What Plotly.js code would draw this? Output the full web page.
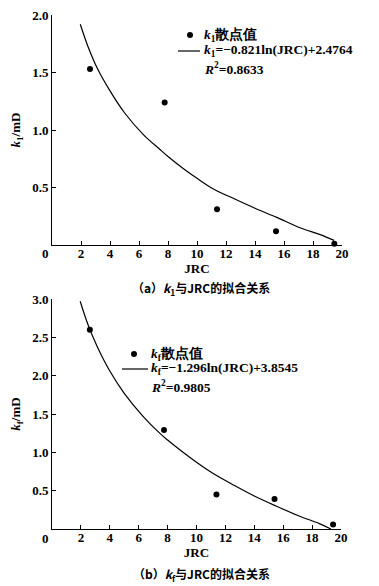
<!DOCTYPE html>
<html><head><meta charset="utf-8">
<script src="https://cdn.plot.ly/plotly-3.0.1.min.js"></script>
<style>body{margin:0;background:#fff}#c{width:379px;height:586px}</style>
</head><body><div id="c"></div>
<script>
// (a) k1 vs JRC
const jrcA = [2.62, 7.77, 11.38, 15.45, 19.47];
const k1 = [1.53, 1.24, 0.31, 0.12, 0.01];
const fitJrcA = [1.95, 2.5, 3.15, 4, 5, 6.3, 7.45, 8, 9, 10, 11.1, 12.6, 14, 15.5, 17.1, 18.5, 19.45];
const fitK1 = [1.92, 1.72, 1.53, 1.34, 1.15, 0.96, 0.83, 0.77, 0.67, 0.58, 0.49, 0.40, 0.32, 0.24, 0.15, 0.09, 0.04];
// (b) kf vs JRC
const jrcB = [2.62, 7.75, 11.38, 15.40, 19.45];
const kf = [2.60, 1.29, 0.45, 0.39, 0.06];
const fitJrcB = [1.95, 2.5, 3.15, 4, 5, 6.3, 7.45, 8, 9, 10, 11.1, 12.6, 14, 15.5, 17.1, 18.5, 19.3];
const fitKf = [2.97, 2.66, 2.37, 2.06, 1.77, 1.47, 1.25, 1.16, 1.01, 0.87, 0.73, 0.57, 0.43, 0.30, 0.17, 0.07, 0.0];
const xTicks = [0, 2, 4, 6, 8, 10, 12, 14, 16, 18, 20];
const yTicksA = [0.5, 1.0, 1.5, 2.0];
const yTicksB = [0.5, 1.0, 1.5, 2.0, 2.5, 3.0];
const legA = ['<i>k</i><sub>1</sub>散点值', '<i>k</i><sub>1</sub>=−0.821ln(JRC)+2.4764', '<i>R</i><sup>2</sup>=0.8633'];
const legB = ['<i>k</i><sub>f</sub>散点值', '<i>k</i><sub>f</sub>=−1.296ln(JRC)+3.8545', '<i>R</i><sup>2</sup>=0.9805'];
const captions = ['（a）<i>k</i><sub>1</sub>与JRC的拟合关系', '（b）<i>k</i><sub>f</sub>与JRC的拟合关系'];

const serif = '"Liberation Serif", "Times New Roman", serif';
const tickFont = {family: serif, size: 13, color: '#000', weight: 700};
const legFont = {family: serif, size: 13.5, color: '#000', weight: 700};
const capFont = {family: '"Noto Sans CJK SC"', size: 12, color: '#000', weight: 700};

function xa(domain) {
  return {domain: domain, range: [0, 20], tickvals: xTicks, ticktext: xTicks.map(v => v === 0 ? '' : String(v)),
    showline: true, linecolor: '#000', linewidth: 1, ticks: 'inside', ticklen: 4, tickcolor: '#000',
    ticklabelstandoff: -4,
    showgrid: false, zeroline: false, tickfont: tickFont, automargin: false,
    title: {text: 'JRC', font: {family: serif, size: 13, color: '#000', weight: 700}, standoff: 0}};
}
function ya(domain, range, tv, title) {
  return {domain: domain, range: range, tickvals: tv, ticktext: tv.map(v => v.toFixed(1)),
    showline: true, linecolor: '#000', linewidth: 1, ticks: 'inside', ticklen: 4, tickcolor: '#000',
    showgrid: false, zeroline: false, tickfont: tickFont, automargin: false,
    title: {text: title, font: {family: serif, size: 13, color: '#000', weight: 700}, standoff: 8}};
}

const traces = [
  {x: jrcA, y: k1, type: 'scatter', mode: 'markers', name: legA[0],
   marker: {color: '#000', size: 6}, xaxis: 'x', yaxis: 'y', cliponaxis: false},
  {x: fitJrcA, y: fitK1, type: 'scatter', mode: 'lines', name: legA[1],
   line: {color: '#000', width: 1.2, shape: 'spline'}, xaxis: 'x', yaxis: 'y', cliponaxis: false},
  {x: jrcB, y: kf, type: 'scatter', mode: 'markers', name: legB[0],
   marker: {color: '#000', size: 6}, xaxis: 'x2', yaxis: 'y2', cliponaxis: false},
  {x: fitJrcB, y: fitKf, type: 'scatter', mode: 'lines', name: legB[1],
   line: {color: '#000', width: 1.2, shape: 'spline'}, xaxis: 'x2', yaxis: 'y2', cliponaxis: false}
];

const W = 379, H = 586;
const px = v => v / W, py = v => (H - v) / H;
function legendBlock(texts, tx, yMark, yLine, yR, mx, lx0, lx1) {
  const ann = [yMark, yLine, yR].map((yy, i) => ({text: texts[i], xref: 'paper', yref: 'paper',
    x: px(tx), y: py(yy), xanchor: 'left', yanchor: 'middle', showarrow: false, font: legFont}));
  const shp = [
    {type: 'circle', xref: 'paper', yref: 'paper', xsizemode: 'pixel', ysizemode: 'pixel',
     xanchor: px(mx), yanchor: py(yMark), x0: -3, x1: 3, y0: -3, y1: 3,
     fillcolor: '#000', line: {width: 0}},
    {type: 'line', xref: 'paper', yref: 'paper', x0: px(lx0), x1: px(lx1), y0: py(yLine), y1: py(yLine),
     line: {color: '#000', width: 1.2}}
  ];
  return {ann, shp};
}
const LA = legendBlock(legA, 202, 35, 51, 69, 190, 178, 200);
const LB = legendBlock(legB, 149, 354, 369, 387, 134, 122, 148);

const zeroLbl = yy => ({text: '0', xref: 'paper', yref: 'paper', x: px(45), y: py(yy),
  xanchor: 'center', yanchor: 'middle', showarrow: false, font: tickFont});

const layout = {
  width: W, height: H, margin: {l: 0, r: 0, t: 0, b: 0},
  paper_bgcolor: '#fff', plot_bgcolor: '#fff', showlegend: false,
  xaxis: xa([px(52), px(342)]),
  yaxis: ya([py(245), py(15)], [0, 2.0], yTicksA, '<i>k</i><sub>1</sub>/mD'),
  xaxis2: Object.assign(xa([px(52), px(341)]), {anchor: 'y2'}),
  yaxis2: Object.assign(ya([py(529), py(299)], [0, 3.0], yTicksB, '<i>k</i><sub>f</sub>/mD'), {anchor: 'x2'}),
  shapes: LA.shp.concat(LB.shp),
  annotations: LA.ann.concat(LB.ann).concat([
    zeroLbl(253), zeroLbl(538),
    {text: captions[0], xref: 'paper', yref: 'paper', x: px(201), y: py(288),
     xanchor: 'center', yanchor: 'middle', showarrow: false, font: capFont},
    {text: captions[1], xref: 'paper', yref: 'paper', x: px(201), y: py(574),
     xanchor: 'center', yanchor: 'middle', showarrow: false, font: capFont}
  ])
};
Plotly.newPlot('c', traces, layout, {displayModeBar: false, staticPlot: true});
</script>
</body></html>
